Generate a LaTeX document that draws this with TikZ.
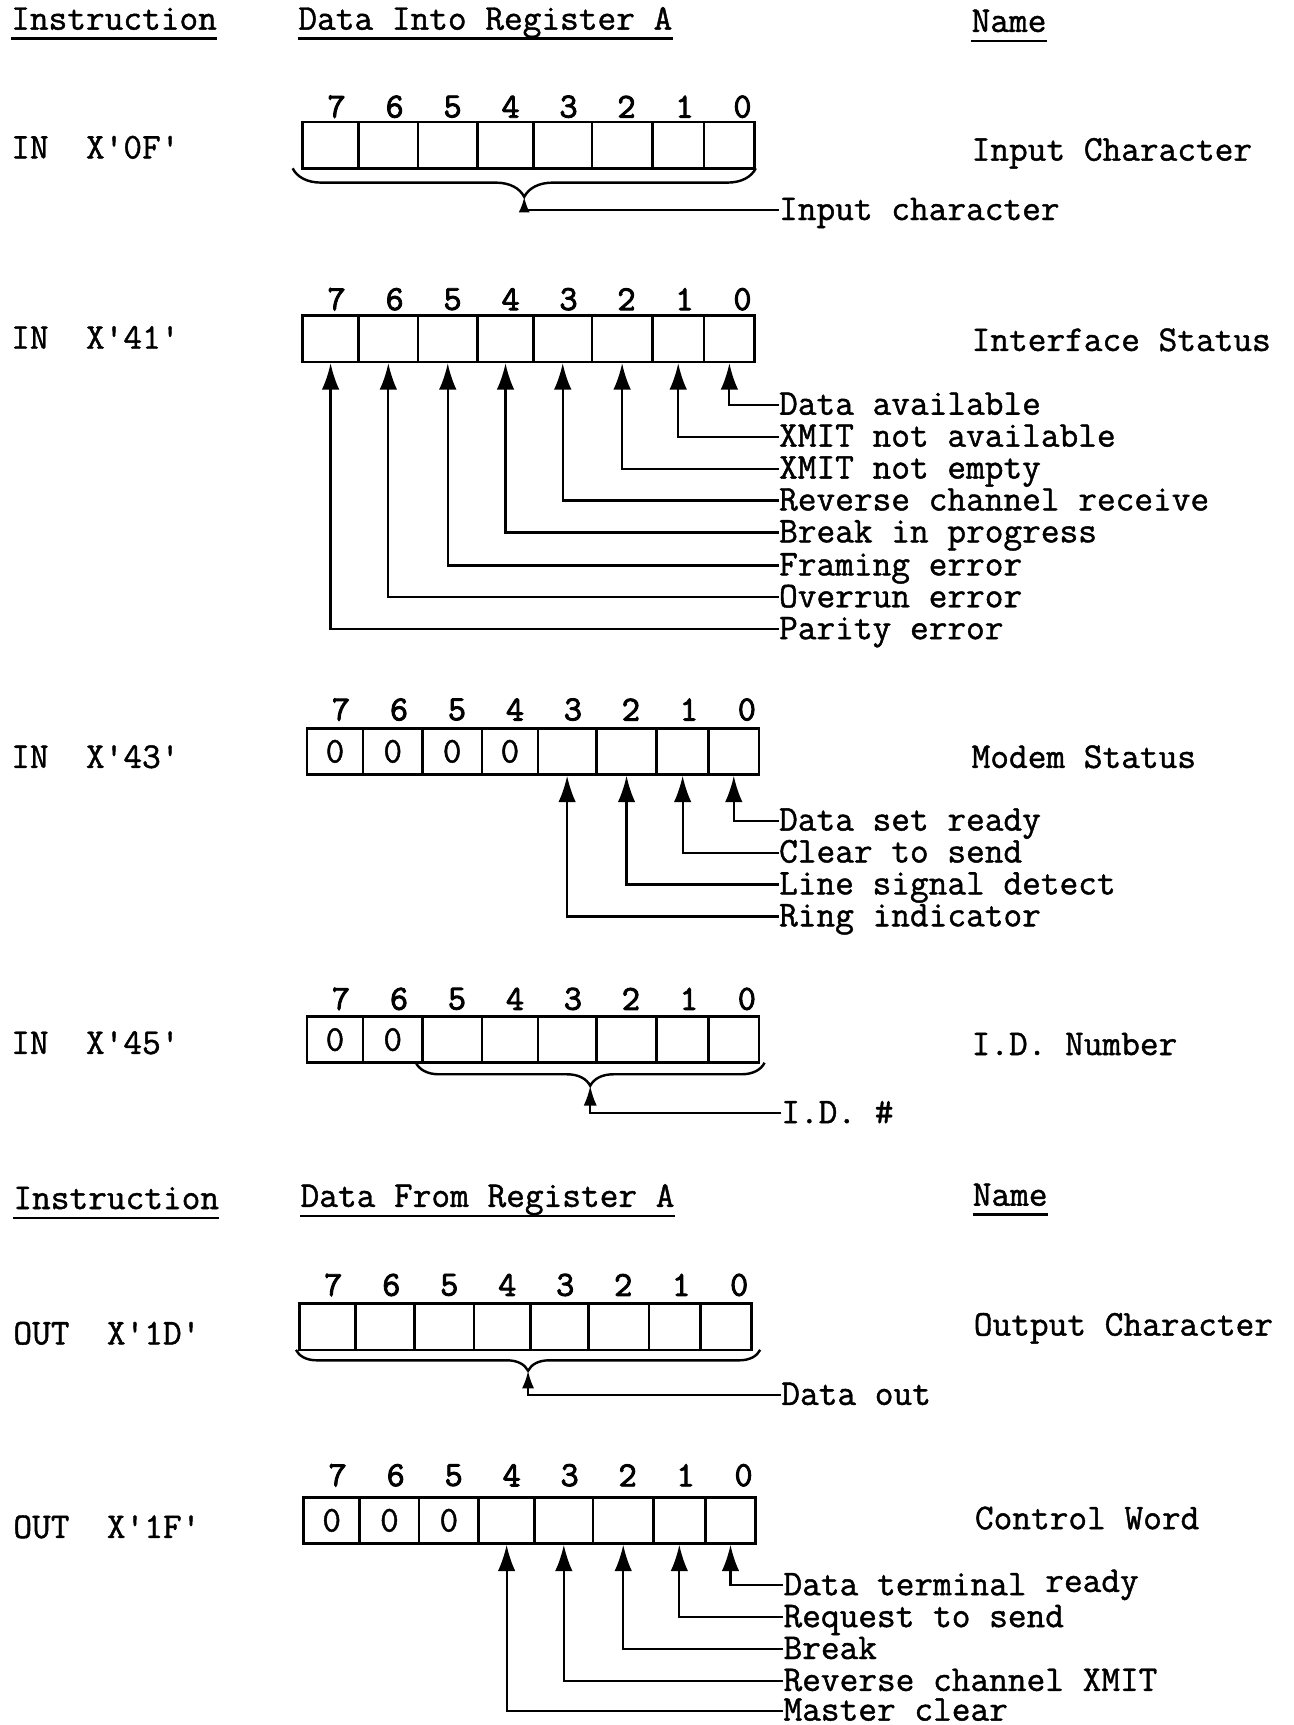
\documentclass[tikz,border=0pt]{standalone}
\usepackage{fontspec}
\newfontfamily\mono{Latin Modern Mono}[FakeBold=1.2]
\newfontfamily\monob{Latin Modern Mono}[FakeBold=2.6]
\usetikzlibrary{arrows.meta,decorations.pathreplacing}
\newcommand\regdraw[5]{%
  \foreach \b/\l/\r in {7/0/51,6/51/105,5/105/159,4/159/210,3/210/263,2/263/318,1/318/365,0/365/411}{%
    \node[cell,minimum width={(\r-\l)*1pt}] (#1\b) at ({#2+(\l+\r)/2},{#3+21}) {\ifnum\b>\numexpr7-#5\relax0\fi};
    \node[bitno] (#1n\b) at ({#2+31+(7-\b)*52.7},#4) {\b};
  }}
\begin{document}
\begin{tikzpicture}[x=1pt,y=-1pt,
  every node/.style={font=\mono\fontsize{33}{38}\selectfont},
  txt/.style={anchor=west,inner sep=0pt,text height=20pt,text depth=2pt},
  hdr/.style={anchor=base west,inner sep=0pt,text depth=0pt},
  cell/.style={draw,line width=2.4pt,minimum height=42pt,inner sep=0pt},
  bitno/.style={inner sep=0pt,font=\monob\fontsize{32}{34}\selectfont},
  conn/.style={line width=2pt},
  arr/.style={conn,-{Latex[length=24pt,width=16pt]}},
  tiparr/.style={conn,-{Latex[length=14pt,width=10pt]}},
  brc/.style={line width=2.2pt,decorate,decoration={brace,mirror,amplitude=#1}},
  uline/.style={line width=2pt}
  ]
\useasboundingbox (0,0) rectangle (1176,1568);

% ---- headers (top)
\node[hdr] (h1) at (10,27) {Instruction};
\node[hdr] (h2) at (271,27) {Data Into Register A};
\node[hdr] (h3) at (883,29) {Name};
\foreach \h in {h1,h2,h3}
  \draw[uline] ([yshift=-8pt]\h.base west) -- ([yshift=-8pt]\h.base east);

% ---- row 1: IN X'0F'
\node[txt] (i1) at (10,135) {IN\ \ X'0F'};
\node[txt] (n1) at (883,137) {Input Character};
\regdraw{A}{275}{111}{97}{0}
\draw[brc=26pt] (266,153) -- (687,153);
\coordinate (t1) at (476.5,179);
\node[txt] (l1) at (708,191) {Input character};
\draw[tiparr] (l1.west) -| (t1);

% ---- row 2: IN X'41'
\node[txt] (i2) at (10,308) {IN\ \ X'41'};
\node[txt] (n2) at (883,310) {Interface Status};
\regdraw{B}{275}{287}{272}{0}
\foreach \b/\y/\t in {0/368/Data available,1/397/XMIT not available,2/426/XMIT not empty,3/455/Reverse channel receive,4/484/Break in progress,5/514/Framing error,6/543/Overrun error,7/572/Parity error}{
  \node[txt] (Bl\b) at (708,\y) {\t};
  \draw[arr] (Bl\b.west) -| (B\b.south);
}

% ---- row 3: IN X'43'
\node[txt] (i3) at (10,689) {IN\ \ X'43'};
\node[txt] (n3) at (883,689) {Modem Status};
\regdraw{C}{279}{662}{645}{4}
\foreach \b/\y/\t in {0/746/Data set ready,1/775/Clear to send,2/804/Line signal detect,3/833/Ring indicator}{
  \node[txt] (Cl\b) at (708,\y) {\t};
  \draw[arr] (Cl\b.west) -| (C\b.south);
}

% ---- row 4: IN X'45'
\node[txt] (i4) at (10,949) {IN\ \ X'45'};
\node[txt] (n4) at (883,950) {I.D. Number};
\regdraw{D}{279}{924}{908}{2}
\draw[brc=21pt] (378,966) -- (695,966);
\coordinate (t4) at (536.5,987);
\node[txt] (l4) at (710,1012) {I.D. \#};
\draw[conn,-{Latex[length=18pt,width=12pt]}] (l4.west) -| (t4);

% ---- headers (middle)
\node[hdr] (h4) at (12,1099) {Instruction};
\node[hdr] (h5) at (273,1097) {Data From Register A};
\node[hdr] (h6) at (884,1096) {Name};
\foreach \h in {h4,h5,h6}
  \draw[uline] ([yshift=-8pt]\h.base west) -- ([yshift=-8pt]\h.base east);

% ---- row 6: OUT X'1D'
\node[txt] (i6) at (12,1213) {OUT\ \ X'1D'};
\node[txt] (n6) at (885,1205) {Output Character};
\regdraw{E}{272}{1185}{1168}{0}
\draw[brc=19pt] (269,1227) -- (691,1227);
\coordinate (t6) at (480,1246);
\node[txt] (l6) at (710,1268) {Data out};
\draw[conn,-{Latex[length=16pt,width=11pt]}] (l6.west) -| (t6);

% ---- row 7: OUT X'1F'
\node[txt] (i7) at (12,1389) {OUT\ \ X'1F'};
\node[txt] (n7) at (886,1381) {Control Word};
\regdraw{F}{276}{1361}{1341}{3}
\foreach \b/\y/\t in {0/1441/{Data terminal \raisebox{3pt}{ready}},1/1470/Request to send,2/1499/Break,3/1528/Reverse channel XMIT,4/1555/Master clear}{
  \node[txt] (Fl\b) at (712,\y) {\t};
  \draw[arr] (Fl\b.west) -| (F\b.south);
}
\end{tikzpicture}
\end{document}
